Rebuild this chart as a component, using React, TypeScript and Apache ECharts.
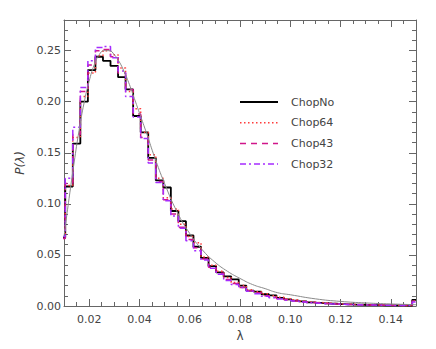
import React, { useEffect, useRef } from "react";
import * as echarts from "echarts";

// Bin centres (lambda) of the step histograms
const lambdaCenters = [
  0.009, 0.012, 0.015, 0.018, 0.021, 0.024, 0.027, 0.030, 0.033, 0.036,
  0.039, 0.042, 0.045, 0.048, 0.051, 0.054, 0.057, 0.060, 0.063, 0.066,
  0.069, 0.072, 0.075, 0.078, 0.081, 0.084, 0.087, 0.090, 0.093, 0.096,
  0.099, 0.102, 0.105, 0.108, 0.111, 0.114, 0.117, 0.120, 0.123, 0.126,
  0.129, 0.132, 0.135, 0.138, 0.141, 0.144, 0.147, 0.150,
];

const chopNo = [
  0.067, 0.117, 0.159, 0.200, 0.231, 0.244, 0.240, 0.235, 0.224, 0.212,
  0.186, 0.170, 0.145, 0.123, 0.116, 0.093, 0.083, 0.069, 0.058, 0.047,
  0.039, 0.033, 0.029, 0.026, 0.020, 0.015, 0.014, 0.0115, 0.0105, 0.008,
  0.0065, 0.0052, 0.0045, 0.0035, 0.003, 0.0025, 0.0022, 0.0018, 0.0016, 0.0013,
  0.0012, 0.001, 0.0008, 0.0007, 0.0006, 0.0006, 0.0005, 0.006,
];

const chop64 = [
  0.070, 0.118, 0.165, 0.205, 0.228, 0.245, 0.250, 0.246, 0.233, 0.210,
  0.193, 0.170, 0.148, 0.125, 0.106, 0.095, 0.080, 0.068, 0.062, 0.048,
  0.040, 0.034, 0.028, 0.023, 0.020, 0.016, 0.014, 0.012, 0.010, 0.0085,
  0.007, 0.006, 0.005, 0.004, 0.0035, 0.003, 0.0025, 0.002, 0.0018, 0.0015,
  0.0013, 0.0011, 0.001, 0.0008, 0.0007, 0.0006, 0.0005, 0.005,
];

const chop43 = [
  0.066, 0.120, 0.168, 0.210, 0.236, 0.250, 0.251, 0.244, 0.228, 0.212,
  0.188, 0.165, 0.143, 0.122, 0.104, 0.090, 0.077, 0.065, 0.057, 0.046,
  0.038, 0.032, 0.026, 0.022, 0.018, 0.015, 0.013, 0.010, 0.0085, 0.007,
  0.006, 0.005, 0.004, 0.0035, 0.003, 0.0025, 0.002, 0.0018, 0.0015, 0.0013,
  0.0011, 0.001, 0.0009, 0.0008, 0.0006, 0.0005, 0.0005, 0.005,
];

const chop32 = [
  0.068, 0.125, 0.175, 0.214, 0.240, 0.253, 0.254, 0.243, 0.230, 0.205,
  0.185, 0.164, 0.140, 0.121, 0.103, 0.088, 0.076, 0.064, 0.054, 0.045,
  0.037, 0.031, 0.025, 0.021, 0.018, 0.0145, 0.012, 0.0095, 0.008, 0.0068,
  0.0057, 0.0048, 0.004, 0.0033, 0.0028, 0.0023, 0.002, 0.0017, 0.0014, 0.0012,
  0.001, 0.0009, 0.0008, 0.0007, 0.0006, 0.0005, 0.0004, 0.004,
];

// Smooth fitted curve
const fitLambda = [
  0.010, 0.012, 0.014, 0.016, 0.018, 0.020, 0.022, 0.024, 0.026, 0.028,
  0.030, 0.032, 0.034, 0.036, 0.038, 0.040, 0.043, 0.046, 0.050, 0.055,
  0.060, 0.065, 0.070, 0.075, 0.080, 0.085, 0.090, 0.095, 0.100, 0.110,
  0.120, 0.130, 0.140, 0.150,
];
const fitP = [
  0.068, 0.105, 0.140, 0.172, 0.199, 0.220, 0.236, 0.246, 0.250, 0.250,
  0.246, 0.239, 0.229, 0.217, 0.203, 0.189, 0.168, 0.146, 0.120, 0.092,
  0.071, 0.055, 0.043, 0.034, 0.027, 0.021, 0.017, 0.013, 0.011, 0.007,
  0.0045, 0.003, 0.002, 0.0013,
];

const xTickLabels = [0.02, 0.04, 0.06, 0.08, 0.10, 0.12, 0.14];
const yTickLabels = [0.0, 0.05, 0.1, 0.15, 0.2, 0.25];

const seriesNames = ["ChopNo", "Chop64", "Chop43", "Chop32"];
const seriesColors = ["#000000", "#ff3b3b", "#d0168a", "#a52cff"];
const seriesDashes: (number[] | null)[] = [null, [1.5, 2.5], [6, 5], [6, 3, 2, 3]];
const seriesWidths = [1.8, 1.5, 1.5, 1.5];

const FONT = "DejaVu Sans";
const AXIS_GRAY = "#666";
const TEXT_GRAY = "#444";

export default function App() {
  const ref = useRef<HTMLDivElement>(null);

  useEffect(() => {
    document.body.style.margin = "0";
    const chart = echarts.init(ref.current!, null, { renderer: "svg" });

    const pairs = (ys: number[]) => lambdaCenters.map((x, i) => [x, ys[i]]);
    const allData = [chopNo, chop64, chop43, chop32];

    const mainX = (pos: "bottom" | "top", labels: boolean) => ({
      type: "value",
      position: pos,
      min: 0.01,
      max: 0.15,
      name: labels ? "λ" : "",
      nameLocation: "middle",
      nameGap: 22,
      nameTextStyle: { fontFamily: FONT, fontSize: 12, color: TEXT_GRAY },
      axisLine: { show: true, onZero: false, lineStyle: { color: AXIS_GRAY, width: 1 } },
      axisTick: {
        show: true,
        inside: true,
        length: 7,
        customValues: xTickLabels,
        lineStyle: { color: AXIS_GRAY },
      },
      axisLabel: {
        show: labels,
        customValues: xTickLabels,
        margin: 8,
        fontFamily: FONT,
        fontSize: 11,
        color: TEXT_GRAY,
        formatter: (v: number) => v.toFixed(2),
      },
      splitLine: { show: false },
    });
    const minorX = (pos: "bottom" | "top") => ({
      type: "value",
      position: pos,
      min: 0.01,
      max: 0.15,
      interval: 0.005,
      axisLine: { show: false, onZero: false },
      axisTick: { show: true, inside: true, length: 4, lineStyle: { color: AXIS_GRAY } },
      axisLabel: { show: false },
      splitLine: { show: false },
    });
    const mainY = (pos: "left" | "right", labels: boolean) => ({
      type: "value",
      position: pos,
      min: 0,
      max: 0.28,
      name: labels ? "P(λ)" : "",
      nameLocation: "middle",
      nameGap: 30,
      nameRotate: 90,
      nameTextStyle: { fontFamily: FONT, fontSize: 12, color: TEXT_GRAY, fontStyle: "italic" },
      axisLine: { show: true, onZero: false, lineStyle: { color: AXIS_GRAY, width: 1 } },
      axisTick: {
        show: true,
        inside: true,
        length: 7,
        customValues: yTickLabels,
        lineStyle: { color: AXIS_GRAY },
      },
      axisLabel: {
        show: labels,
        customValues: yTickLabels,
        margin: 3,
        fontFamily: FONT,
        fontSize: 11,
        color: TEXT_GRAY,
        formatter: (v: number) => v.toFixed(2),
      },
      splitLine: { show: false },
    });
    const minorY = (pos: "left" | "right") => ({
      type: "value",
      position: pos,
      min: 0,
      max: 0.28,
      interval: 0.01,
      axisLine: { show: false, onZero: false },
      axisTick: { show: true, inside: true, length: 4, lineStyle: { color: AXIS_GRAY } },
      axisLabel: { show: false },
      splitLine: { show: false },
    });

    const stepSeries = seriesNames.map((name, k) => ({
      name,
      type: "line",
      step: "middle",
      data: pairs(allData[k]),
      symbol: "none",
      clip: true,
      lineStyle: {
        color: seriesColors[k],
        width: seriesWidths[k],
        type: seriesDashes[k] ?? "solid",
      },
      xAxisIndex: 0,
      yAxisIndex: 0,
    }));

    // Legend drawn as graphic elements (line sample + label)
    const legendX = 240;
    const legendTop = 102;
    const legendStep = 20.7;
    const legendGraphics: any[] = [];
    seriesNames.forEach((name, k) => {
      const y = legendTop + k * legendStep;
      legendGraphics.push({
        type: "line",
        shape: { x1: legendX, y1: y, x2: legendX + 38, y2: y },
        style: {
          stroke: seriesColors[k],
          lineWidth: seriesWidths[k],
          lineDash: seriesDashes[k] ?? null,
        },
      });
      legendGraphics.push({
        type: "text",
        x: legendX + 51,
        y,
        style: {
          text: name,
          fill: TEXT_GRAY,
          font: `11px "${FONT}"`,
          verticalAlign: "middle",
          align: "left",
        },
      });
    });

    chart.setOption({
      animation: false,
      backgroundColor: "#fff",
      grid: { left: 64, right: 20, top: 20, bottom: 43, containLabel: false },
      xAxis: [mainX("bottom", true), minorX("bottom"), mainX("top", false), minorX("top")],
      yAxis: [mainY("left", true), minorY("left"), mainY("right", false), minorY("right")],
      graphic: legendGraphics,
      series: [
        ...stepSeries,
        {
          name: "fit",
          type: "line",
          smooth: true,
          data: fitLambda.map((x, i) => [x, fitP[i]]),
          symbol: "none",
          lineStyle: { color: "#8a8a8a", width: 1 },
          xAxisIndex: 0,
          yAxisIndex: 0,
        },
      ],
    });

    return () => chart.dispose();
  }, []);

  return <div ref={ref} style={{ width: 436, height: 349 }} />;
}
